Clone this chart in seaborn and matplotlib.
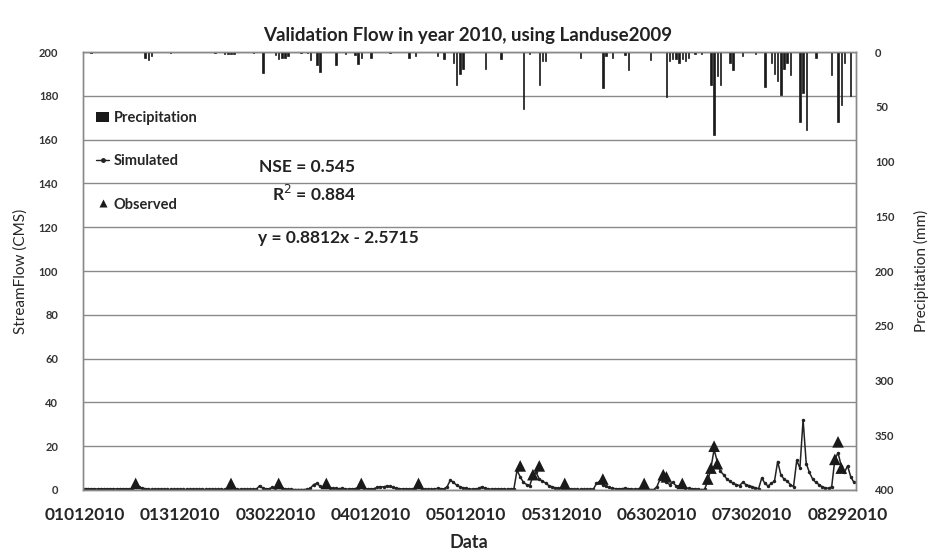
import numpy as np
import pandas as pd
import matplotlib
matplotlib.use("Agg")
import matplotlib.pyplot as plt
import seaborn as sns
from matplotlib.lines import Line2D
from matplotlib.patches import Patch

# ---- data ----
START_DATE = "2010-01-01"
N_DAYS = 243  # Jan 1 .. Aug 31

# simulated daily streamflow (CMS), 10 values per row
simulated = [
    0.6, 0.6, 0.5, 0.5, 0.5, 0.5, 0.5, 0.5, 0.5, 0.5,
    0.5, 0.5, 0.5, 0.5, 0.5, 0.6, 1.2, 1.5, 0.9, 0.6,
    0.4, 0.3, 0.3, 0.3, 0.3, 0.3, 0.3, 0.3, 0.3, 0.3,
    0.3, 0.3, 0.3, 0.3, 0.3, 0.3, 0.3, 0.3, 0.3, 0.3,
    0.3, 0.3, 0.3, 0.3, 0.3, 0.3, 1.0, 0.8, 0.4, 0.3,
    0.3, 0.3, 0.3, 0.3, 0.3, 2.0, 0.8, 0.5, 0.6, 1.2,
    1.0, 1.5, 0.8, 0.5, 0.3, 0.3, 0.2, 0.2, 0.2, 0.2,
    0.3, 0.8, 2.5, 3.0, 1.8, 1.2, 1.5, 1.0, 0.8, 0.7,
    0.6, 0.8, 0.5, 0.4, 0.5, 0.6, 1.0, 1.2, 0.7, 0.5,
    0.5, 0.6, 1.2, 1.5, 1.4, 1.8, 1.6, 1.2, 0.8, 0.6,
    0.5, 0.5, 0.4, 0.4, 0.8, 1.2, 0.6, 0.4, 0.3, 0.3,
    0.4, 0.8, 0.6, 0.5, 1.5, 4.5, 3.5, 2.2, 1.5, 1.0,
    0.7, 0.5, 0.4, 0.4, 0.8, 1.5, 0.8, 0.5, 0.4, 0.4,
    0.4, 0.4, 0.4, 0.4, 0.4, 0.5, 9.0, 6.0, 3.5, 2.5,
    2.0, 6.5, 8.0, 5.0, 4.0, 3.2, 2.0, 1.5, 1.0, 0.8,
    0.6, 0.5, 0.4, 0.4, 0.3, 0.3, 0.3, 0.3, 0.3, 0.3,
    0.3, 3.0, 4.0, 2.5, 1.6, 1.2, 0.8, 0.6, 0.5, 0.6,
    0.8, 0.6, 0.5, 0.4, 0.3, 0.3, 0.3, 0.3, 0.2, 0.2,
    1.5, 5.0, 6.5, 3.5, 2.5, 3.5, 2.0, 1.6, 1.4, 1.0,
    0.8, 0.6, 0.4, 0.3, 0.2, 0.3, 4.0, 10.0, 18.5, 13.0,
    8.5, 7.0, 5.0, 4.0, 3.0, 2.5, 2.0, 3.5, 2.5, 2.0,
    1.5, 1.0, 0.6, 5.5, 3.0, 1.8, 3.0, 4.0, 13.0, 7.0,
    5.0, 4.0, 2.5, 1.5, 13.5, 10.0, 32.0, 12.0, 8.0, 5.0,
    3.5, 2.5, 1.5, 1.0, 0.8, 1.5, 14.0, 17.0, 11.0, 8.0,
    11.0, 6.0, 3.5,
]

# observed streamflow (CMS), only on sampled days
obs_days = [16, 46, 61, 76, 87, 105, 137, 141, 143, 151, 163, 176, 182, 183,
            188, 196, 197, 198, 199, 236, 237, 238]
obs_values = [3, 3, 3, 3, 3, 3, 11, 7, 11, 3, 5, 3, 7, 6,
              3, 5, 10, 20, 12, 14, 22, 10]

# daily precipitation (mm), only rainy days
precip_days = [2, 19, 20, 21, 27, 41, 44, 45, 46, 47,
               53, 56, 60, 61, 62, 63, 64, 68, 70, 71,
               73, 74, 79, 82, 85, 86, 87, 90, 96, 102,
               104, 111, 113, 116, 117, 118, 119, 126, 131, 138,
               140, 143, 144, 145, 156, 163, 164, 166, 170, 171,
               178, 183, 184, 185, 186, 187, 188, 189, 190, 192,
               194, 197, 198, 199, 200, 203, 204, 207, 211, 214,
               216, 217, 218, 219, 220, 221, 222, 225, 226, 227,
               230, 235, 237, 238, 239, 241]
precip_mm = [1, 5, 7, 4, 1, 1, 2, 2, 2, 2,
             1, 19, 3, 6, 5, 5, 4, 1, 1, 7,
             12, 18, 12, 2, 3, 11, 5, 5, 1, 5,
             4, 4, 6, 10, 30, 20, 15, 15, 6, 52,
             2, 30, 8, 8, 5, 33, 4, 5, 3, 16,
             7, 41, 8, 6, 6, 10, 6, 8, 5, 2,
             2, 30, 76, 22, 30, 10, 16, 4, 2, 32,
             10, 20, 26, 39, 15, 10, 21, 64, 37, 71,
             5, 21, 64, 48, 10, 40]

TICK_STEP = 30
TITLE = "Validation Flow in year 2010, using Landuse2009"


def main():
    sns.set_theme(style="white")
    plt.rcParams["font.family"] = ["Lato", "DejaVu Sans"]

    dates = pd.date_range(START_DATE, periods=N_DAYS, freq="D")
    sim_df = pd.DataFrame({"day": np.arange(N_DAYS), "flow": simulated})
    obs_df = pd.DataFrame({"day": obs_days, "flow": obs_values})

    fig = plt.figure(figsize=(9.35, 5.6), dpi=100)
    ax = fig.add_axes([0.089, 0.125, 0.826, 0.782])

    # horizontal grid every 20 CMS
    ax.set_ylim(0, 200)
    ax.set_yticks(range(0, 201, 20))
    ax.yaxis.grid(True, color="#8a8a8a", linewidth=1.0)
    ax.set_axisbelow(True)

    sns.lineplot(data=sim_df, x="day", y="flow", ax=ax, color="#222222",
                 linewidth=1.1, marker="o", markersize=2.5, markeredgewidth=0)
    sns.scatterplot(data=obs_df, x="day", y="flow", ax=ax, color="#1a1a1a",
                    marker="^", s=70, edgecolor="none", zorder=4)

    # precipitation on inverted right axis
    ax2 = ax.twinx()
    ax2.bar(precip_days, precip_mm, width=0.45, color="#1a1a1a",
            edgecolor="#1a1a1a", linewidth=0.5)
    ax2.set_ylim(400, 0)
    ax2.set_yticks(range(0, 401, 50))

    ax.set_xlim(-0.5, N_DAYS - 0.5)
    ticks = list(range(0, N_DAYS, TICK_STEP))
    ax.set_xticks(ticks)
    ax.set_xticklabels([dates[t].strftime("%m%d%Y") for t in ticks],
                       fontsize=12.5, fontweight="bold")
    ax.tick_params(axis="x", length=0, pad=12)
    ax.tick_params(axis="y", length=0, labelsize=8, pad=18)
    ax2.tick_params(axis="y", length=0, labelsize=8, pad=14)
    for lab in ax.get_yticklabels() + ax2.get_yticklabels():
        lab.set_fontweight("bold")
        lab.set_color("#333333")

    for a in (ax, ax2):
        for sp in a.spines.values():
            sp.set_color("#8a8a8a")
            sp.set_linewidth(1.0)

    ax.set_xlabel("Data", fontsize=13, fontweight="bold", labelpad=8)
    ax.set_ylabel("StreamFlow (CMS)", fontsize=11, labelpad=8)
    ax2.set_ylabel("Precipitation (mm)", fontsize=11, labelpad=14)
    fig.suptitle(TITLE, x=0.5, y=0.952, fontsize=13.5, fontweight="bold",
                 color="#222222")

    # legend, Excel style
    handles = [
        Patch(facecolor="#1a1a1a", edgecolor="none", label="Precipitation"),
        Line2D([0], [0], color="#222222", linewidth=1, marker="o",
               markersize=2.5, label="Simulated"),
        Line2D([0], [0], color="none", marker="^", markersize=6,
               markerfacecolor="#1a1a1a", markeredgecolor="none",
               label="Observed"),
    ]
    ax.legend(handles=handles, loc="upper left",
              bbox_to_anchor=(0.0, 0.895), frameon=False,
              labelspacing=2.0, handlelength=0.9, handletextpad=0.3,
              prop={"size": 10.5, "weight": "bold"})

    stat_kw = dict(transform=ax.transAxes, fontsize=12.5, fontweight="bold",
                   color="#222222")
    ax.text(0.228, 0.727, "NSE = 0.545", **stat_kw)
    ax.text(0.245, 0.66, "R$^2$ = 0.884", **stat_kw)
    ax.text(0.226, 0.563, "y = 0.8812x - 2.5715", **stat_kw)

    fig.savefig("out.png", dpi=100)
    plt.close(fig)


if __name__ == "__main__":
    main()
